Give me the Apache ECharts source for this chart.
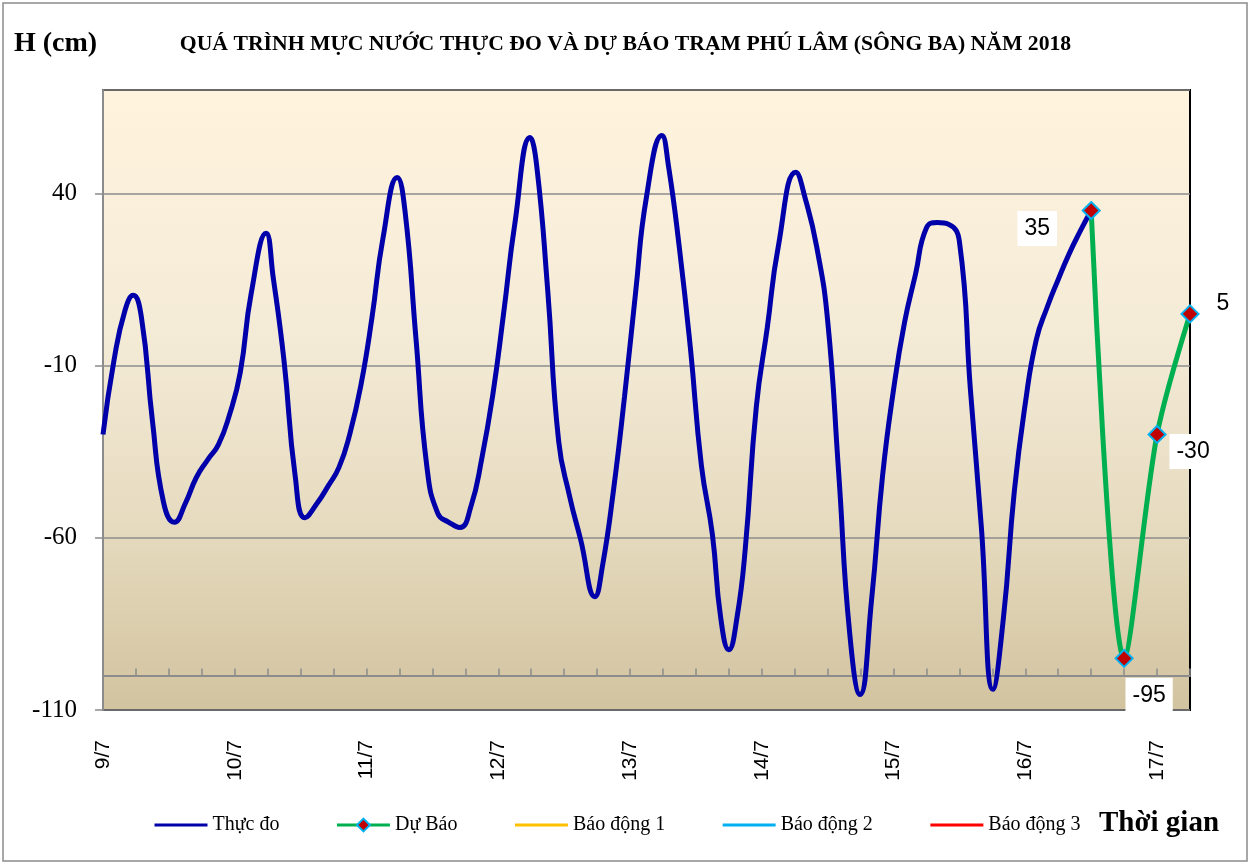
<!DOCTYPE html>
<html>
<head>
<meta charset="utf-8">
<title>Phú Lâm</title>
<script src="https://cdn.jsdelivr.net/npm/echarts@6/dist/echarts.min.js"></script>
<style>
  html, body { margin: 0; padding: 0; background: #fff; }
  #chart { width: 1251px; height: 866px; }
</style>
</head>
<body>
<div id="chart"></div>
<script>
// mực nước thực đo: giờ tính từ 0h ngày 9/7 và mực nước (cm)
var obsHours = [
  0, 2, 4, 5.5, 7, 9, 11, 13, 15, 17, 19, 21, 23, 25, 27, 29.7,
  31, 33, 35, 36.8, 39, 41, 43, 45, 47, 49, 51, 53.6,
  55, 57, 59, 61, 63, 65, 67, 69, 71, 73, 75, 77.8,
  79, 81, 83, 85, 87, 89.6, 91, 93, 95, 97, 99, 101.8,
  103, 105, 107, 109, 111, 112.5, 114, 115.5, 117, 119, 121, 123, 126.2,
  128, 130, 132, 134, 136, 137.9, 140, 142, 144, 146, 148, 150, 152, 154, 156,
  158, 160, 162.1, 164, 166, 168, 170, 172, 174, 176, 178, 180
];
var obsLevels = [
  -30, -8.5, 6, 10.4, 4, -26, -49.5, -55.5, -50, -42.5, -37.5, -33, -24.5, -12, 11, 28.4,
  15.6, -9, -42, -54.2, -50, -45, -39.5, -29.6, -15.5, 4, 27, 44.6,
  35, -2, -39.4, -53, -55.5, -57, -51, -37, -18.5, 5.5, 31, 56.2,
  48, 12, -32, -48, -60.5, -77.1, -68, -46, -19, 11, 39, 56.8,
  48, 24, -5, -39, -59, -83, -92.5, -83, -63, -22, 1, 24.5, 46.1,
  38, 24.5, 3, -41, -87.5, -105.5, -78, -42, -17, 2.5, 16.5, 30, 31.5, 31, 26,
  -17, -57, -104, -83.5, -46.5, -21, -2.5, 7, 15, 22.5, 29, 35
];

// dự báo
var fcHours = [180, 186, 192, 198];
var fcLevels = [35, -95, -30, 5];

var dayLabels = ['9/7', '10/7', '11/7', '12/7', '13/7', '14/7', '15/7', '16/7', '17/7'];

var yMin = -110, yMax = 70, yStep = 50;

var chart = echarts.init(document.getElementById('chart'));

var obsData = obsHours.map(function (h, i) { return [h, obsLevels[i]]; });

// vị trí nhãn số liệu dự báo (lệch so với điểm)
var fcOffsets = [[-54, 18], [25, 37], [36, 17], [33, -10]];
var fcData = fcHours.map(function (h, i) {
  return {
    value: [h, fcLevels[i]],
    label: { offset: fcOffsets[i], backgroundColor: i === 3 ? 'transparent' : '#fff' }
  };
});

var plotBg = new echarts.graphic.LinearGradient(0, 0, 0, 1, [
  { offset: 0, color: '#fff3dd' },
  { offset: 0.4, color: '#f4ebd7' },
  { offset: 0.7, color: '#e6dbbf' },
  { offset: 1, color: '#d2c39f' }
]);

var noMark = { opacity: 0 };

chart.setOption({
  backgroundColor: '#fff',
  animation: false,
  title: {
    text: 'QUÁ TRÌNH MỰC NƯỚC THỰC ĐO VÀ DỰ BÁO TRẠM PHÚ LÂM (SÔNG BA) NĂM 2018',
    left: 'center',
    top: 28,
    textStyle: { fontFamily: 'Liberation Serif', fontSize: 21.7, fontWeight: 'bold', color: '#000' }
  },
  graphic: [
    { type: 'rect', shape: { x: 3, y: 3, width: 1244, height: 858 },
      style: { fill: 'none', stroke: '#8c8c8c', lineWidth: 1.5 }, silent: true },
    { type: 'text', left: 14, top: 30,
      style: { text: 'H (cm)', font: 'bold 28px "Liberation Serif"', fill: '#000' } },
    { type: 'text', left: 1099, top: 809,
      style: { text: 'Thời gian', font: 'bold 29px "Liberation Serif"', fill: '#000' } }
  ],
  legend: {
    left: 153,
    top: 815,
    padding: 0,
    itemWidth: 53,
    itemHeight: 16,
    itemGap: 56,
    lineStyle: { width: 3 },
    textStyle: { fontFamily: 'Liberation Serif', fontSize: 20, color: '#000' },
    data: [
      { name: 'Thực đo', itemStyle: noMark },
      'Dự Báo',
      { name: 'Báo động 1', itemStyle: noMark },
      { name: 'Báo động 2', itemStyle: noMark },
      { name: 'Báo động 3', itemStyle: noMark }
    ]
  },
  grid: [
    { left: 103, right: 61, top: 90, bottom: 156, show: true,
      backgroundColor: plotBg, borderColor: '#000', borderWidth: 2 },
    { left: 103, right: 61, top: 90, bottom: 190.5, show: false }
  ],
  xAxis: [
    {
      type: 'value', gridIndex: 0, min: 0, max: 198, interval: 24,
      axisLine: { show: false },
      axisTick: { show: false },
      splitLine: { show: false },
      axisLabel: {
        rotate: 90, margin: 30,
        fontFamily: 'Liberation Sans', fontSize: 21, color: '#000',
        formatter: function (v) { return v % 24 === 0 ? dayLabels[v / 24] : ''; }
      }
    },
    {
      type: 'value', gridIndex: 1, min: 0, max: 198, interval: 6,
      axisLine: { show: true, lineStyle: { color: '#8c8c8c', width: 2 } },
      axisTick: { show: true, inside: true, length: 7, lineStyle: { color: '#8c8c8c', width: 1.5 } },
      splitLine: { show: false },
      axisLabel: { show: false }
    }
  ],
  yAxis: [
    {
      type: 'value', gridIndex: 0, min: yMin, max: yMax, interval: yStep,
      axisLine: { show: true, lineStyle: { color: '#8c8c8c', width: 2 } },
      axisTick: { show: true, length: 8, lineStyle: { color: '#8c8c8c', width: 1.5 } },
      splitLine: { show: true, lineStyle: { color: '#8c8c8c', width: 1.5 } },
      axisLabel: {
        showMaxLabel: false, margin: 26,
        fontFamily: 'Liberation Serif', fontSize: 25, color: '#000'
      }
    },
    { type: 'value', gridIndex: 1, min: 0, max: 1, show: false }
  ],
  series: [
    {
      name: 'Thực đo', type: 'line', xAxisIndex: 0, yAxisIndex: 0,
      data: obsData, smooth: 0.5, showSymbol: false, symbol: 'none',
      color: '#0000aa',
      lineStyle: { color: '#0000aa', width: 5 },
      z: 3
    },
    {
      name: 'Dự Báo', type: 'line', xAxisIndex: 0, yAxisIndex: 0,
      data: fcData, smooth: 0.3, clip: false,
      symbol: 'diamond', symbolSize: 17,
      color: '#00b050',
      lineStyle: { color: '#00b050', width: 5 },
      itemStyle: { color: '#c00000', borderColor: '#00b0f0', borderWidth: 2 },
      label: {
        show: true, position: 'inside',
        fontFamily: 'Liberation Sans', fontSize: 23, color: '#000',
        padding: [7, 7, 5, 7]
      },
      z: 4
    },
    { name: 'Báo động 1', type: 'line', data: [], symbol: 'none', color: '#ffc000', lineStyle: { color: '#ffc000' } },
    { name: 'Báo động 2', type: 'line', data: [], symbol: 'none', color: '#00b0f0', lineStyle: { color: '#00b0f0' } },
    { name: 'Báo động 3', type: 'line', data: [], symbol: 'none', color: '#ff0000', lineStyle: { color: '#ff0000' } }
  ]
});
</script>
</body>
</html>
